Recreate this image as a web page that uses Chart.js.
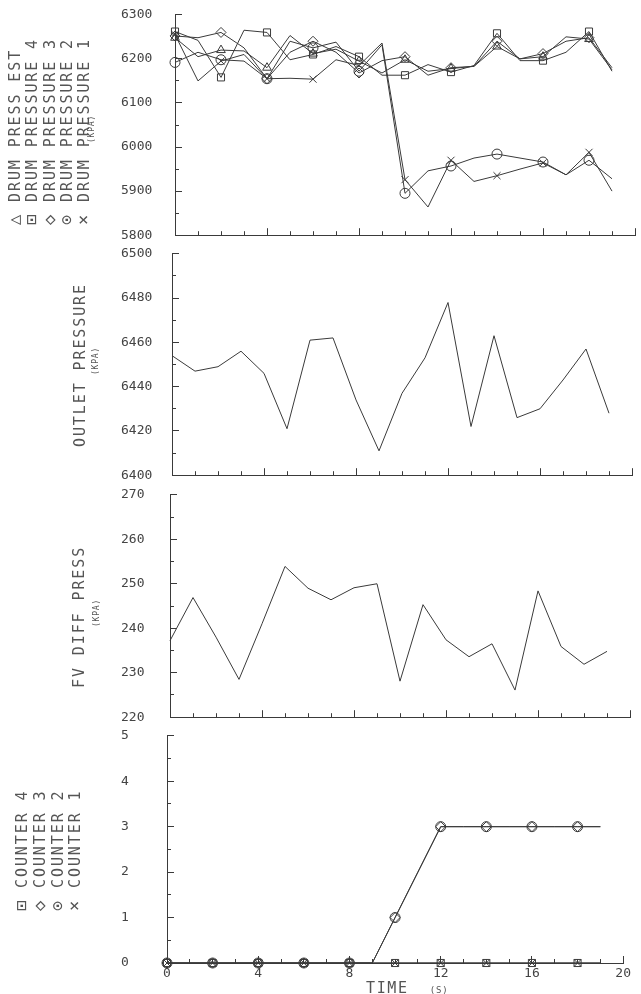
<!DOCTYPE html>
<html>
<head>
<meta charset="utf-8">
<script src="https://cdn.jsdelivr.net/npm/chart.js@4.4.1/dist/chart.umd.min.js"></script>
<style>
body { margin: 0; background: #fff; }
#page { position: relative; width: 641px; height: 994px; overflow: hidden; }
canvas { position: absolute; left: 0; }
.vt { position: absolute; transform-origin: 0 0; transform: rotate(-90deg); white-space: pre;
      font: 15px "DejaVu Sans Mono", monospace; letter-spacing: 1.9px; color: #555; line-height: 16px; }
.vt b { font-weight: normal; font-size: 17px; }
.kpa { font-size: 8px; letter-spacing: 0.8px; line-height: 9px; }
#xt { position: absolute; left: 366px; top: 980px; font: 15px "DejaVu Sans Mono", monospace;
      letter-spacing: 1.6px; color: #555; white-space: pre; line-height: 16px; }
#xt span { font-size: 9px; letter-spacing: 0.8px; }
</style>
</head>
<body>
<div id="page">
  <canvas id="c1"></canvas>
  <canvas id="c2"></canvas>
  <canvas id="c3"></canvas>
  <canvas id="c4"></canvas>

  <!-- side labels, read bottom to top -->
  <div class="vt" style="left:6px;top:225px"><b>△</b> DRUM PRESS EST</div>
  <div class="vt" style="left:23px;top:225px"><b>⊡</b> DRUM PRESSURE 4</div>
  <div class="vt" style="left:41px;top:225px"><b>◇</b> DRUM PRESSURE 3</div>
  <div class="vt" style="left:58px;top:225px"><b>⊙</b> DRUM PRESSURE 2</div>
  <div class="vt" style="left:75px;top:225px"><b>×</b> DRUM PRESSURE 1</div>
  <div class="vt kpa" style="left:87px;top:143px">(KPA)</div>

  <div class="vt" style="left:72px;top:447px">OUTLET PRESSURE</div>
  <div class="vt kpa" style="left:91px;top:375px">(KPA)</div>

  <div class="vt" style="left:71px;top:688px">FV DIFF PRESS</div>
  <div class="vt kpa" style="left:92px;top:627px">(KPA)</div>

  <div class="vt" style="left:13px;top:911px"><b>⊡</b> COUNTER 4</div>
  <div class="vt" style="left:31px;top:911px"><b>◇</b> COUNTER 3</div>
  <div class="vt" style="left:49px;top:911px"><b>⊙</b> COUNTER 2</div>
  <div class="vt" style="left:66px;top:911px"><b>×</b> COUNTER 1</div>

  <div id="xt">TIME  <span>(S)</span></div>
</div>

<script>
// time axis (s)
const time = [0, 1, 2, 3, 4, 5, 6, 7, 8, 9, 10, 11, 12, 13, 14, 15, 16, 17, 18, 19];
const xTickLabels = [0, 4, 8, 12, 16, 20];

// drum pressures (kPa)
const drumPressEst = [6248, 6205, 6220, 6218, 6180, 6253, 6212, 6222, 6195, 6168, 6198, 6172, 6178, 6183, 6228, 6200, 6205, 6250, 6245, 6175];
const drumPress4 = [6262, 6242, 6158, 6265, 6260, 6198, 6210, 6228, 6205, 6163, 6163, 6187, 6170, 6185, 6258, 6196, 6196, 6215, 6262, 6172];
const drumPress3 = [6252, 6248, 6260, 6225, 6155, 6215, 6240, 6215, 6168, 6196, 6205, 6163, 6180, 6183, 6240, 6200, 6212, 6240, 6248, 6180];
const drumPress2 = [6192, 6215, 6198, 6195, 6155, 6240, 6225, 6238, 6172, 6232, 5895, 5946, 5957, 5975, 5984, 5975, 5966, 5937, 5970, 5928];
const drumPress1 = [6255, 6150, 6195, 6210, 6155, 6156, 6154, 6198, 6185, 6236, 5926, 5864, 5970, 5922, 5935, 5950, 5964, 5937, 5988, 5900];

// outlet pressure (kPa)
const outletPressure = [6454, 6447, 6449, 6456, 6446, 6421, 6461, 6462, 6434, 6411, 6437, 6453, 6478, 6422, 6463, 6426, 6430, 6443, 6457, 6428];

// FV diff press (kPa)
const fvDiffPress = [237.2, 246.9, 238, 228.5, 241, 253.9, 249, 246.4, 249.1, 250, 228.1, 245.3, 237.4, 233.6, 236.5, 226.1, 248.4, 235.9, 231.9, 234.8];

// counters
const counter1 = [0, 0, 0, 0, 0, 0, 0, 0, 0, 0, 0, 0, 0, 0, 0, 0, 0, 0, 0, 0];
const counter2 = [0, 0, 0, 0, 0, 0, 0, 0, 0, 0, 1, 2, 3, 3, 3, 3, 3, 3, 3, 3];
const counter3 = [0, 0, 0, 0, 0, 0, 0, 0, 0, 0, 1, 2, 3, 3, 3, 3, 3, 3, 3, 3];
const counter4 = [0, 0, 0, 0, 0, 0, 0, 0, 0, 0, 0, 0, 0, 0, 0, 0, 0, 0, 0, 0];

const ink = '#3a3a3a';
const tickFont = { family: 'DejaVu Sans Mono', size: 13 };

function series(values, style) {
  return {
    data: time.map((t, i) => ({ x: t, y: values[i] })),
    borderColor: ink,
    borderWidth: 1,
    backgroundColor: 'rgba(0,0,0,0)',
    pointStyle: style || 'circle',
    pointRadius: style ? (c => c.dataIndex % 2 === 0 ? 5 : 0) : 0,
    pointBorderColor: ink,
    pointBorderWidth: 1,
    tension: 0,
    clip: false
  };
}

function panel(id, cfg) {
  const canvas = document.getElementById(id);
  const top = cfg.plotTop - 10;
  canvas.style.top = top + 'px';
  canvas.width = 641;
  canvas.height = cfg.plotBottom - top + cfg.below;

  new Chart(canvas, {
    type: 'line',
    data: { datasets: cfg.datasets },
    options: {
      responsive: false,
      animation: false,
      events: [],
      layout: { padding: { left: 121, right: 641 - cfg.left - 460, top: 10, bottom: 0 } },
      plugins: { legend: { display: false }, tooltip: { enabled: false } },
      scales: {
        x: {
          type: 'linear', min: 0, max: 20, weight: 1,
          border: { display: true, color: ink, width: 1 },
          grid: { drawOnChartArea: false, drawTicks: true, tickLength: -7, tickColor: ink },
          ticks: {
            display: cfg.xLabels, stepSize: 4, padding: 10, color: '#444', font: tickFont,
            callback: v => xTickLabels.includes(v) ? String(v) : ''
          },
          afterFit: s => { s.height = cfg.below; }
        },
        xMinor: {
          type: 'linear', position: 'bottom', min: 0, max: 20, weight: 0,
          border: { display: false },
          grid: { drawOnChartArea: false, drawTicks: true, tickLength: -4, tickColor: ink },
          ticks: { display: false, stepSize: 1 },
          afterFit: s => { s.height = 0; }
        },
        y: {
          min: cfg.yMin, max: cfg.yMax, weight: 1,
          border: { display: true, color: ink, width: 1 },
          grid: { drawOnChartArea: false, drawTicks: true, tickLength: -7, tickColor: ink },
          ticks: { stepSize: cfg.yStep, crossAlign: 'far', color: '#444', font: tickFont,
                   callback: v => String(v) },
          afterFit: s => { s.width = cfg.left - 121; }
        },
        yMinor: {
          type: 'linear', position: 'left', min: cfg.yMin, max: cfg.yMax, weight: 0,
          border: { display: false },
          grid: { drawOnChartArea: false, drawTicks: true, tickLength: -4, tickColor: ink },
          ticks: { display: false, stepSize: cfg.yStep / 2 },
          afterFit: s => { s.width = 0; }
        }
      }
    }
  });
}

panel('c1', {
  plotTop: 14, plotBottom: 240, left: 175, below: 6, xLabels: false,
  yMin: 5800, yMax: 6300, yStep: 100,
  datasets: [
    series(drumPressEst, 'triangle'),
    series(drumPress4, 'rect'),
    series(drumPress3, 'rectRot'),
    series(drumPress2, 'circle'),
    series(drumPress1, 'crossRot')
  ]
});

panel('c2', {
  plotTop: 253, plotBottom: 480, left: 172, below: 6, xLabels: false,
  yMin: 6400, yMax: 6500, yStep: 20,
  datasets: [series(outletPressure)]
});

panel('c3', {
  plotTop: 494, plotBottom: 722, left: 170, below: 6, xLabels: false,
  yMin: 220, yMax: 270, yStep: 10,
  datasets: [series(fvDiffPress)]
});

panel('c4', {
  plotTop: 735, plotBottom: 963, left: 167, below: 31, xLabels: true,
  yMin: 0, yMax: 5, yStep: 1,
  datasets: [
    series(counter4, 'rect'),
    series(counter3, 'rectRot'),
    series(counter2, 'circle'),
    series(counter1, 'crossRot')
  ]
});
</script>
</body>
</html>
